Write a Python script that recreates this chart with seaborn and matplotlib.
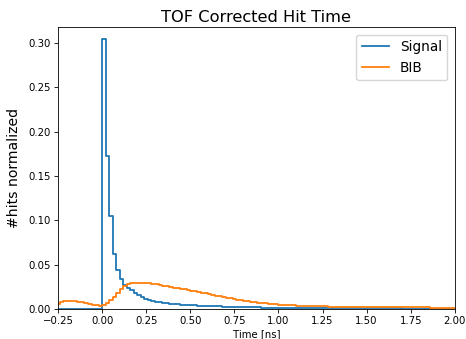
import numpy as np
import pandas as pd
import matplotlib
matplotlib.use("Agg")
import matplotlib.pyplot as plt
import seaborn as sns

# ---- data ----
bin_width = 0.02
range_lo = -0.26
range_hi = 2.0

signal_pre = [0.0] * 13
signal_main = [
    0.305, 0.173, 0.105, 0.062, 0.044, 0.034, 0.027, 0.0235, 0.021, 0.018,
    0.0155, 0.013, 0.011, 0.0098, 0.0088, 0.008, 0.0074, 0.0068, 0.0063, 0.0059,
    0.0055, 0.0052, 0.0049, 0.0046, 0.0044, 0.0042, 0.0040, 0.0038, 0.0036, 0.0034,
    0.0033, 0.0031, 0.0030, 0.0029, 0.0028, 0.0026, 0.0025, 0.0024, 0.0023, 0.0022,
    0.0021, 0.0020, 0.0019, 0.0018, 0.0017, 0.0016, 0.0015, 0.0015, 0.0014, 0.0013,
    0.0013,
]
signal_tail = (
    [0.0012, 0.0012, 0.0011, 0.0011, 0.0010, 0.0010, 0.0010, 0.0009, 0.0009]
    + [0.0009] + [0.0008] * 8 + [0.0007] * 6
    + [0.0006] * 10 + [0.0005] * 15
)
signal = signal_pre + signal_main + signal_tail

bib_pre = [0.0055, 0.0080, 0.0085, 0.0085, 0.0085, 0.0085, 0.0082, 0.0075,
           0.0065, 0.0055, 0.0048, 0.0042, 0.0036]
bib_main = [
    0.0040, 0.0065, 0.0100, 0.0140, 0.0180, 0.0220, 0.0255, 0.0278, 0.0290, 0.0295,
    0.0297, 0.0297, 0.0295, 0.0290, 0.0284, 0.0277, 0.0270, 0.0263, 0.0256, 0.0249,
    0.0242, 0.0235, 0.0228, 0.0221, 0.0214, 0.0207, 0.0200, 0.0192, 0.0184, 0.0176,
    0.0168, 0.0160, 0.0152, 0.0144, 0.0136, 0.0128, 0.0121, 0.0114, 0.0107, 0.0100,
    0.0094, 0.0088, 0.0082, 0.0077, 0.0072, 0.0067, 0.0063, 0.0059, 0.0055, 0.0052,
    0.0049,
]
bib_tail = (
    [0.0046, 0.0044, 0.0042, 0.0040, 0.0038, 0.0036, 0.0035, 0.0034, 0.0033]
    + [0.0032, 0.0031, 0.0030, 0.0029, 0.0028, 0.0027, 0.0026, 0.0025, 0.0024,
       0.0024, 0.0023, 0.0023, 0.0023, 0.0022, 0.0022]
    + [0.0022] * 17 + [0.0018, 0.0016] + [0.0015] * 6
)
bib = bib_pre + bib_main + bib_tail

labels = ["Signal", "BIB"]
colors = ["#1f77b4", "#ff7f0e"]

# ---- plot ----
n_bins = len(signal)
edges = (range_lo + bin_width * np.arange(n_bins + 1)).tolist()
centers = [0.5 * (edges[i] + edges[i + 1]) for i in range(n_bins)]

fig, ax = plt.subplots(figsize=(4.66, 3.39), dpi=100)
for vals, lab, col in zip([signal, bib], labels, colors):
    df = pd.DataFrame({"t": centers, "w": vals})
    sns.histplot(data=df, x="t", weights="w", bins=edges, element="step", fill=False,
                 color=col, label=lab, ax=ax, linewidth=1.3)

ax.set_xlim(-0.25, 2.0)
ax.set_ylim(0, 0.318)
ax.set_yticks([0.0, 0.05, 0.10, 0.15, 0.20, 0.25, 0.30])
ax.set_xticks([-0.25, 0.0, 0.25, 0.5, 0.75, 1.0, 1.25, 1.5, 1.75, 2.0])
ax.tick_params(labelsize=7.3, length=2.6, width=0.6, pad=2.5)
for s in ax.spines.values():
    s.set_linewidth(0.6)
ax.set_title("TOF Corrected Hit Time", fontsize=11.7, pad=4)
ax.set_xlabel("Time [ns]", fontsize=7.3, labelpad=2)
ax.set_ylabel("#hits normalized", fontsize=10.1, labelpad=5)
ax.legend(loc="upper right", fontsize=9.8, borderaxespad=0.55)

fig.subplots_adjust(left=0.1245, right=0.976, top=0.920, bottom=0.0885)
fig.savefig("out.png", dpi=100)
